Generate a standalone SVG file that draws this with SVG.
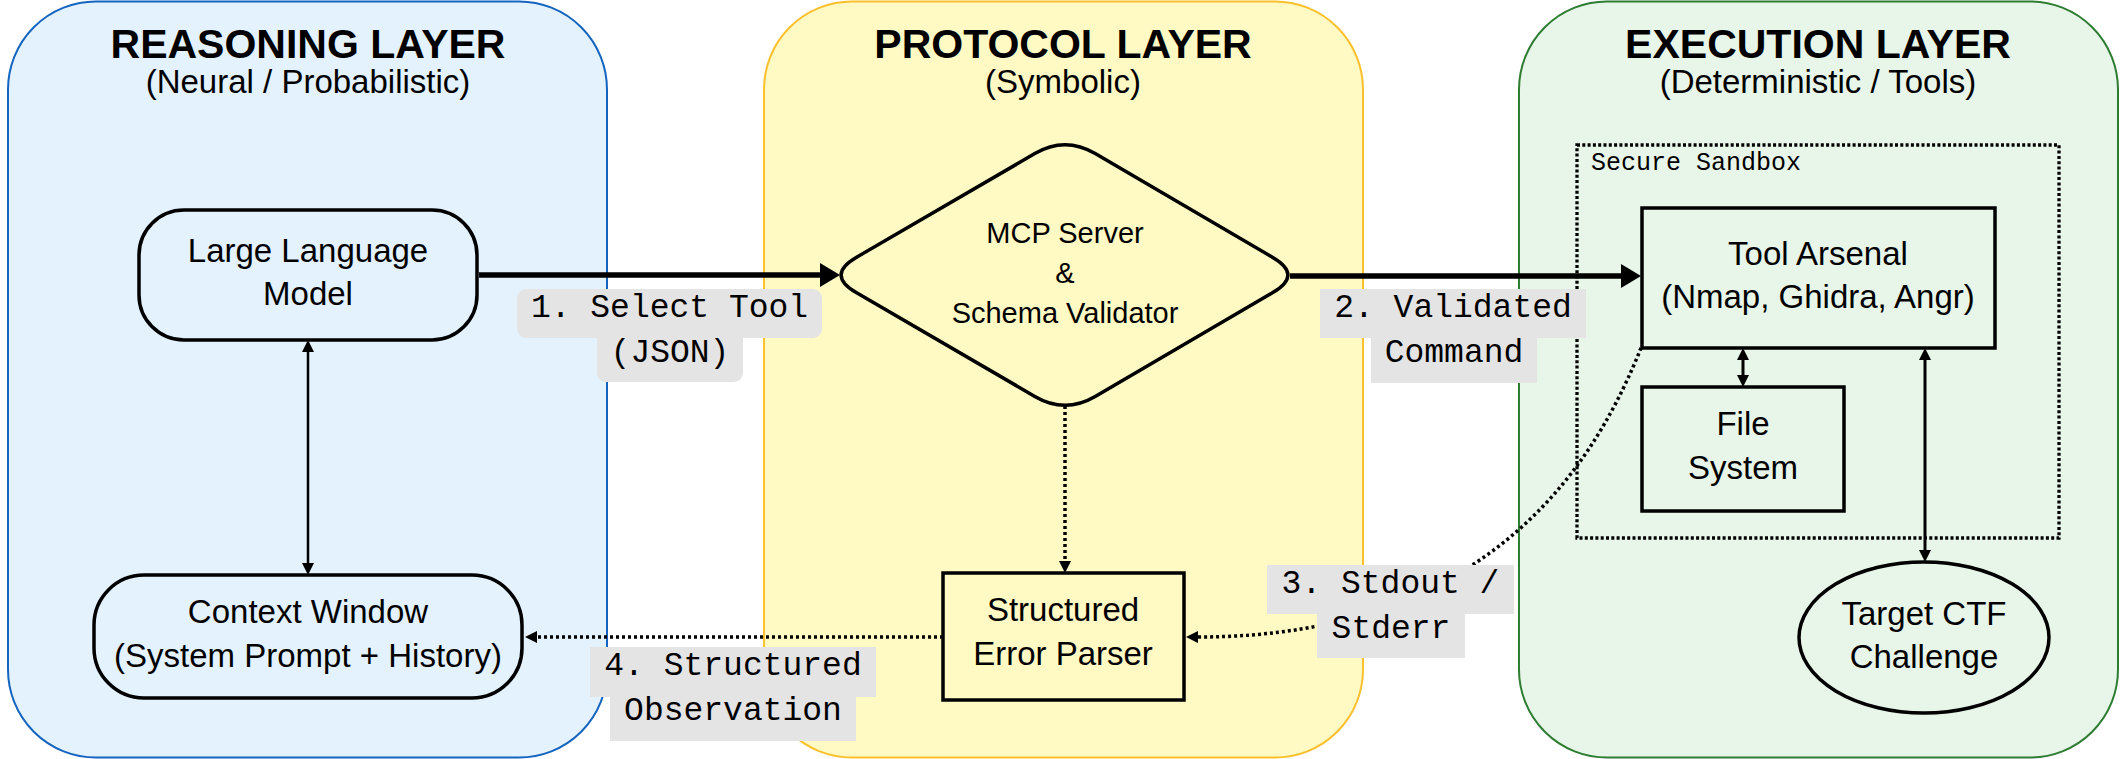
<svg xmlns="http://www.w3.org/2000/svg" width="2128" height="759" viewBox="0 0 2128 759">
<style>
.title{font-family:"Liberation Sans",Arial,sans-serif;font-weight:bold;font-size:41px;fill:#000;text-anchor:middle}
.sub{font-family:"Liberation Sans",Arial,sans-serif;font-size:33px;fill:#000;text-anchor:middle}
.lbl{font-family:"Liberation Sans",Arial,sans-serif;font-size:33px;fill:#000;text-anchor:middle}
.mcp{font-family:"Liberation Sans",Arial,sans-serif;font-size:29px;fill:#000;text-anchor:middle}
.mono{font-family:"Liberation Mono","Courier New",monospace;font-size:33px;fill:#000;text-anchor:middle}
.sbx{font-family:"Liberation Mono","Courier New",monospace;font-size:25px;fill:#000}
.node{stroke:#000;stroke-width:3.5}
.thick{stroke:#000;stroke-width:5.5;fill:none}
.thin{stroke:#000;stroke-width:2.5;fill:none}
.mid{stroke:#000;stroke-width:3;fill:none}
.dot{stroke:#000;stroke-width:3.5;fill:none;stroke-dasharray:3 3}
.lblbg{fill:#e4e4e4}
</style>
<defs>
<marker id="big" viewBox="0 0 20 24" markerWidth="20" markerHeight="24" markerUnits="userSpaceOnUse" refX="2" refY="12" orient="auto"><path d="M0,0 L20,12 L0,24 z" fill="#000"/></marker>
<marker id="sm" viewBox="0 0 12 12" markerWidth="12" markerHeight="12" markerUnits="userSpaceOnUse" refX="2" refY="6" orient="auto-start-reverse"><path d="M0,0 L12,6 L0,12 z" fill="#000"/></marker>
</defs>
<rect width="2128" height="759" fill="#fff"/>

<g id="reasoning-layer">
<rect x="8" y="1.5" width="599" height="756" rx="88" ry="88" fill="#e3f2fd" stroke="#1565c0" stroke-width="2"/>
<text class="title" x="308" y="58">REASONING LAYER</text>
<text class="sub" x="308" y="93">(Neural / Probabilistic)</text>
</g>
<g id="protocol-layer">
<rect x="764" y="1.5" width="599" height="756" rx="88" ry="88" fill="#fff9c4" stroke="#fbc02d" stroke-width="2"/>
<text class="title" x="1063" y="58">PROTOCOL LAYER</text>
<text class="sub" x="1063" y="93">(Symbolic)</text>
</g>
<g id="execution-layer">
<rect x="1519" y="1.5" width="599" height="756" rx="88" ry="88" fill="#e8f5e9" stroke="#2e7d32" stroke-width="2"/>
<text class="title" x="1818" y="58">EXECUTION LAYER</text>
<text class="sub" x="1818" y="93">(Deterministic / Tools)</text>
</g>
<g id="secure-sandbox">
<rect x="1577" y="145" width="482" height="393" fill="none" stroke="#000" stroke-width="3.3" stroke-dasharray="3 2.3"/>
<text class="sbx" x="1591" y="170">Secure Sandbox</text>
</g>

<g id="llm">
<rect class="node" x="139" y="210" width="338" height="130" rx="45" ry="45" fill="#e3f2fd"/>
<text class="lbl" x="308" y="262">Large Language</text>
<text class="lbl" x="308" y="305">Model</text>
</g>
<g id="context-window">
<rect class="node" x="94" y="575" width="428" height="123" rx="50" ry="50" fill="#e3f2fd"/>
<text class="lbl" x="308" y="623">Context Window</text>
<text class="lbl" x="308" y="667">(System Prompt + History)</text>
</g>
<g id="mcp-server">
<path class="node" fill="#fff9c4" d="M856.2,257.4 L1034.8,153.6 Q1065,136 1095.2,153.6 L1272.8,257.4 Q1303,275 1272.8,292.6 L1095.2,396.4 Q1065,414 1034.8,396.4 L856.2,292.6 Q826,275 856.2,257.4 Z"/>
<text class="mcp" x="1065" y="243">MCP Server</text>
<text class="mcp" x="1065" y="283">&amp;</text>
<text class="mcp" x="1065" y="323">Schema Validator</text>
</g>
<g id="error-parser">
<rect class="node" x="943" y="573" width="241" height="127" fill="#fff9c4"/>
<text class="lbl" x="1063" y="621">Structured</text>
<text class="lbl" x="1063" y="665">Error Parser</text>
</g>
<g id="tool-arsenal">
<rect class="node" x="1642" y="208" width="353" height="140" fill="#e8f5e9"/>
<text class="lbl" x="1818" y="265">Tool Arsenal</text>
<text class="lbl" x="1818" y="308">(Nmap, Ghidra, Angr)</text>
</g>
<g id="file-system">
<rect class="node" x="1642" y="387" width="202" height="124" fill="#e8f5e9"/>
<text class="lbl" x="1743" y="435">File</text>
<text class="lbl" x="1743" y="479">System</text>
</g>
<g id="target-ctf">
<ellipse class="node" cx="1924" cy="637.5" rx="125" ry="75.5" fill="#e8f5e9"/>
<text class="lbl" x="1924" y="625">Target CTF</text>
<text class="lbl" x="1924" y="668">Challenge</text>
</g>

<g id="connectors">
<line class="thick" x1="479" y1="275" x2="822" y2="275" marker-end="url(#big)"/>
<line class="thick" x1="1290" y1="276" x2="1623" y2="276" marker-end="url(#big)"/>
<line class="thin" x1="308" y1="350" x2="308" y2="565" marker-start="url(#sm)" marker-end="url(#sm)"/>
<line class="mid" x1="1743" y1="358" x2="1743" y2="377" marker-start="url(#sm)" marker-end="url(#sm)"/>
<line class="mid" x1="1925" y1="358" x2="1925" y2="552" marker-start="url(#sm)" marker-end="url(#sm)"/>
<line class="dot" x1="1065" y1="406" x2="1065" y2="563" marker-end="url(#sm)"/>
<line class="dot" x1="943" y1="637" x2="535" y2="637" marker-end="url(#sm)"/>
<path class="dot" d="M1641,348 C1600,450 1500,638 1196,637" marker-end="url(#sm)"/>
</g>

<g id="label-1">
<rect class="lblbg" x="517" y="289" width="305" height="49" rx="9"/>
<rect class="lblbg" x="597" y="330" width="146" height="52" rx="9"/>
<text class="mono" x="669.5" y="317">1. Select Tool</text>
<text class="mono" x="670" y="362">(JSON)</text>
</g>
<g id="label-2">
<rect class="lblbg" x="1320" y="289" width="266" height="49"/>
<rect class="lblbg" x="1371" y="338" width="166" height="45"/>
<text class="mono" x="1453" y="317">2. Validated</text>
<text class="mono" x="1454" y="362">Command</text>
</g>
<g id="label-3">
<rect class="lblbg" x="1267" y="565" width="247" height="49"/>
<rect class="lblbg" x="1317" y="614" width="148" height="44"/>
<text class="mono" x="1390.5" y="593">3. Stdout /</text>
<text class="mono" x="1391" y="638">Stderr</text>
</g>
<g id="label-4">
<rect class="lblbg" x="590" y="647" width="286" height="50"/>
<rect class="lblbg" x="610" y="697" width="246" height="44"/>
<text class="mono" x="733" y="675">4. Structured</text>
<text class="mono" x="733" y="720">Observation</text>
</g>
</svg>
